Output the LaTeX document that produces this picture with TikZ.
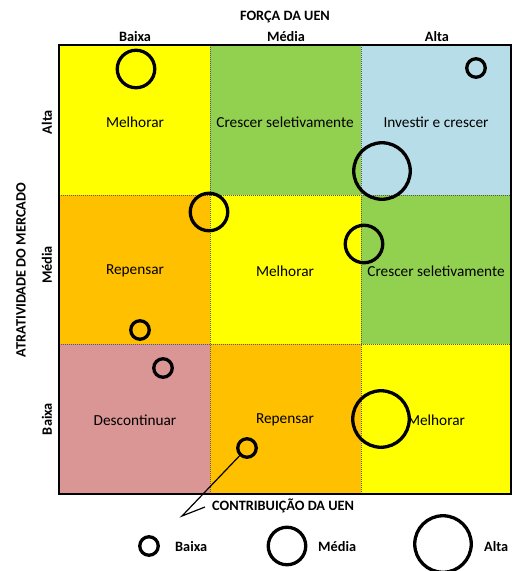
\documentclass[tikz,border=0pt]{standalone}
\usepackage{fontspec}
\setmainfont{Carlito}
\begin{document}
\begin{tikzpicture}[x=1pt,y=-1pt,
  celltext/.style={font=\fontsize{15.3}{17}\selectfont, inner sep=0pt},
  axislabel/.style={font=\bfseries\fontsize{14.3}{16}\selectfont, inner sep=0pt},
  bubble/.style={circle, draw=black, line width=3.3pt, fill=none, minimum size=#1, inner sep=0pt, outer sep=0pt},
  divider/.style={line width=0.9pt, draw=black!65, dash pattern=on 1pt off 1pt},
  callout/.style={line width=1.2pt, draw=black}
]
\definecolor{cYellow}{HTML}{FFFF00}
\definecolor{cGreen}{HTML}{92D050}
\definecolor{cBlue}{HTML}{B7DEE8}
\definecolor{cOrange}{HTML}{FFC000}
\definecolor{cPink}{HTML}{DA9694}
\useasboundingbox (0,0) rectangle (512,571);

% cell backgrounds (columns at 59/210/361/511, rows at 45/195/344/494)
\fill[cYellow] (59,45) rectangle (210,195);
\fill[cGreen]  (210,45) rectangle (361,195);
\fill[cBlue]   (361,45) rectangle (511,195);
\fill[cOrange] (59,195) rectangle (210,344);
\fill[cYellow] (210,195) rectangle (361,344);
\fill[cGreen]  (361,195) rectangle (511,344);
\fill[cPink]   (59,344) rectangle (210,494);
\fill[cOrange] (210,344) rectangle (361,494);
\fill[cYellow] (361,344) rectangle (511,494);

% inner grid lines
\draw[divider] (210,45) -- (210,494);
\draw[divider] (361,45) -- (361,494);
\draw[divider] (59,195) -- (511,195);
\draw[divider] (59,344) -- (511,344);
% outer frame
\draw[line width=1.6pt] (59,45) rectangle (511,494);

% strategy texts
\node[celltext] (t11) at (135,122) {Melhorar};
\node[celltext] (t12) at (285,122) {Crescer seletivamente};
\node[celltext] (t13) at (436,122) {Investir e crescer};
\node[celltext] (t21) at (135,271) {Repensar};
\node[celltext] (t22) at (285,271) {Melhorar};
\node[celltext] (t23) at (436,271) {Crescer seletivamente};
\node[celltext] (t31) at (135,420) {Descontinuar};
\node[celltext] (t32) at (285,420) {Repensar};
\node[celltext] (t33) at (436,420) {Melhorar};

% axis titles and level labels
\node[axislabel] (xtitle) at (285,17) {FORÇA DA UEN};
\node[axislabel] (xlow)  at (135,37) {Baixa};
\node[axislabel] (xmid)  at (286,37) {Média};
\node[axislabel] (xhigh) at (437,37) {Alta};
\node[axislabel, rotate=90] (ytitle) at (21,270) {ATRATIVIDADE DO MERCADO};
\node[axislabel, rotate=90] (yhigh) at (47,122) {Alta};
\node[axislabel, rotate=90] (ymid)  at (47,265) {Média};
\node[axislabel, rotate=90] (ylow)  at (47,419) {Baixa};

% business units
\node[bubble=37.5] (u1) at (136,69) {};
\node[bubble=18.5] (u2) at (476,68) {};
\node[bubble=56.5] (u3) at (382,171) {};
\node[bubble=37.5] (u4) at (209,212) {};
\node[bubble=37.5] (u5) at (364,244) {};
\node[bubble=18.5] (u6) at (140,330) {};
\node[bubble=18.5] (u7) at (163,368) {};
\node[bubble=56.5] (u8) at (381,419) {};
\node[bubble=18.5] (u9) at (247,448) {};

% callout towards the legend title
\coordinate (tip) at (182,516);
\coordinate (tipend) at (205,507);
\draw[callout] (u9) -- (tip) -- (tipend);
\node[axislabel, anchor=west] (ltitle) at (212,506) {CONTRIBUIÇÃO DA UEN};

% legend
\node[bubble=18.5] (l1) at (149,546) {};
\node[axislabel, anchor=west] (l1t) at (175,547) {Baixa};
\node[bubble=37.5] (l2) at (287,546) {};
\node[axislabel, anchor=west] (l2t) at (318,547) {Média};
\node[bubble=56.5] (l3) at (443,544) {};
\node[axislabel, anchor=west] (l3t) at (484,547) {Alta};
\end{tikzpicture}
\end{document}
